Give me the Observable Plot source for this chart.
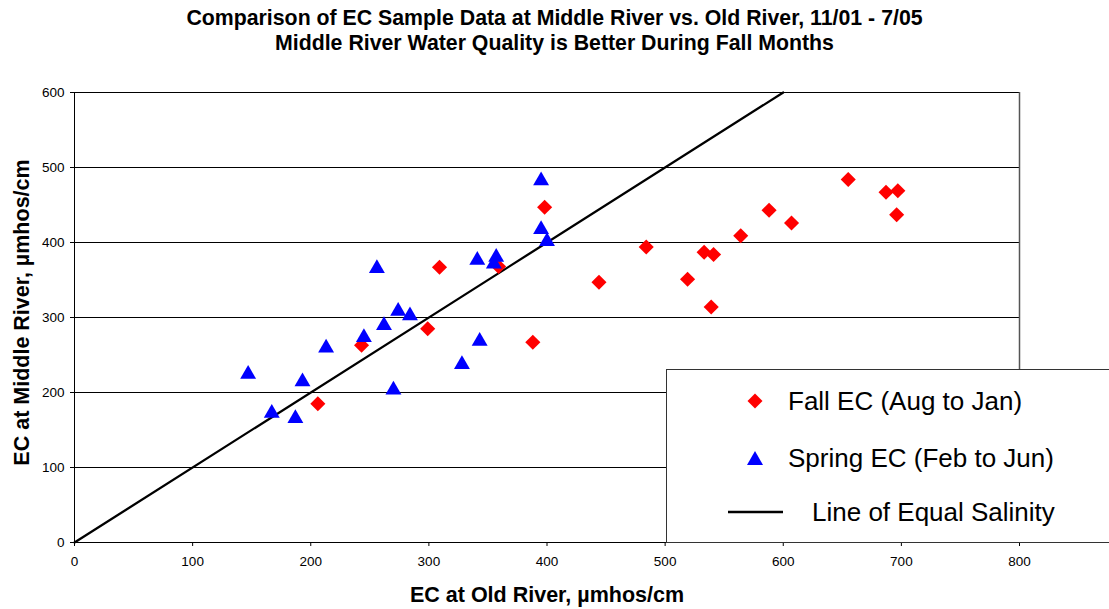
<!DOCTYPE html>
<html>
<head>
<meta charset="utf-8">
<script src="https://cdn.jsdelivr.net/npm/d3@7"></script>
<script src="https://cdn.jsdelivr.net/npm/@observablehq/plot@0.6"></script>
<style>
  html, body { margin: 0; padding: 0; background: #fff; overflow: hidden; }
  body { width: 1109px; height: 609px; position: relative; font-family: "Liberation Sans", Arial, sans-serif; }
  #title { height: 80px; font-weight: bold; font-size: 21.3px; line-height: 24px; color: #000; }
  #title div { position: absolute; left: 0; width: 1109px; text-align: center; white-space: nowrap; }
  #legend { position: absolute; left: 666px; top: 369px; width: 460px; height: 172px; background: #fff; border: 1px solid #333; font-size: 26px; color: #000; }
  .row { position: absolute; display: flex; align-items: center; height: 30px; white-space: nowrap; }
  svg.sym { display: block; }
</style>
</head>
<body>
<div id="title">
  <div style="top:6px">Comparison of EC Sample Data at Middle River vs. Old River, 11/01 - 7/05</div>
  <div style="top:31px">Middle River Water Quality is Better During Fall Months</div>
</div>
<div id="chart"></div>
<div id="legend">
  <div class="row" style="left:80px; top:16px;"><svg class="sym" width="16" height="16"><path d="M8,0.5L15.5,8L8,15.5L0.5,8Z" fill="#ff0000"/></svg><span style="margin-left:25px">Fall EC (Aug to Jan)</span></div>
  <div class="row" style="left:80px; top:73px;"><svg class="sym" width="16" height="16"><path d="M8,1L16,15L0,15Z" fill="#0000ff"/></svg><span style="margin-left:25px">Spring EC (Feb to Jun)</span></div>
  <div class="row" style="left:61px; top:127px;"><svg class="sym" width="55" height="4"><line x1="0" y1="2" x2="55" y2="2" stroke="#000" stroke-width="2.5"/></svg><span style="margin-left:29px">Line of Equal Salinity</span></div>
</div>
<script>
// Fall EC (Aug to Jan): Old River (x) vs Middle River (y)
const fallOld    = [206, 243, 299, 309, 359, 388, 398, 444, 484, 519, 533, 541, 539, 564, 588, 607, 655, 687, 697, 696];
const fallMiddle = [185, 263, 285, 367, 368, 267, 447, 347, 394, 351, 387, 384, 314, 409, 443, 426, 484, 467, 469, 437];
// Spring EC (Feb to Jun)
const springOld    = [147, 167, 187, 193, 213, 245, 256, 262, 270, 274, 284, 328, 341, 343, 355, 357, 395, 395, 400];
const springMiddle = [227, 175, 168, 217, 262, 276, 368, 292, 206, 311, 305, 240, 379, 271, 374, 383, 485, 420, 404];
// Line of Equal Salinity
const lineOld = [0, 600];
const lineMiddle = [0, 600];
const xTicks = [0, 100, 200, 300, 400, 500, 600, 700, 800];
const yTicks = [0, 100, 200, 300, 400, 500, 600];

const fall = fallOld.map((x, i) => ({x, y: fallMiddle[i]}));
const spring = springOld.map((x, i) => ({x, y: springMiddle[i]}));
const line = lineOld.map((x, i) => ({x, y: lineMiddle[i]}));

const chart = Plot.plot({
  width: 1109,
  height: 529,
  marginTop: 12,
  marginBottom: 67,
  marginLeft: 74,
  marginRight: 90,
  style: {fontFamily: "'Liberation Sans', Arial, sans-serif", fontSize: "13.5px", color: "#000", background: "#fff"},
  x: {domain: [0, 800], ticks: xTicks, label: null},
  y: {domain: [0, 600], ticks: yTicks, label: null},
  marks: [
    Plot.ruleY(yTicks.filter(d => d > 0), {stroke: "#000", strokeWidth: 1}),
    Plot.ruleX([800], {stroke: "#555", strokeWidth: 1.5}),
    Plot.ruleX([0], {stroke: "#000", strokeWidth: 1}),
    Plot.ruleY([0], {stroke: "#000", strokeWidth: 1}),
    Plot.axisX({ticks: xTicks, tickSize: 4, tickPadding: 10, tickFormat: d => String(d), fontSize: 13.5}),
    Plot.axisY({ticks: yTicks, tickSize: 4, tickPadding: 6, tickFormat: d => String(d), fontSize: 13.5}),
    Plot.line(line, {x: "x", y: "y", stroke: "#000", strokeWidth: 2.3}),
    Plot.dot(fall, {x: "x", y: "y", symbol: "diamond2", r: 6.8, fill: "#ff0000", stroke: "none"}),
    Plot.dot(spring, {x: "x", y: "y", symbol: "triangle2", r: 7.6, fill: "#0000ff", stroke: "none", dy: 2}),
    Plot.text(["EC at Old River, µmhos/cm"], {frameAnchor: "bottom", dy: 59, fontSize: 21.5, fontWeight: "bold", lineAnchor: "bottom"}),
    Plot.text(["EC at Middle River, µmhos/cm"], {frameAnchor: "left", dx: -52, dy: -5, rotate: -90, textAnchor: "middle", fontSize: 21.5, fontWeight: "bold"})
  ]
});
document.getElementById("chart").appendChild(chart);
</script>
</body>
</html>
